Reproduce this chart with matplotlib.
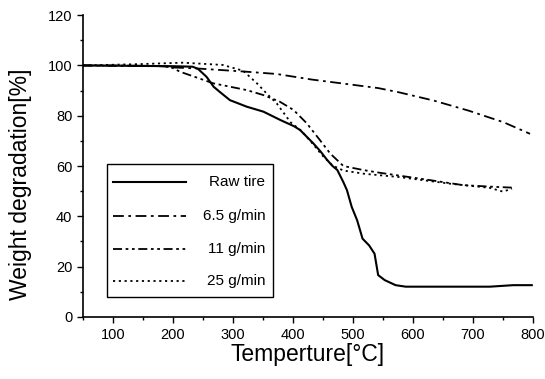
import numpy as np
import matplotlib
matplotlib.use("Agg")
import matplotlib.pyplot as plt
from matplotlib.ticker import MultipleLocator

plt.rcParams['font.family'] = ['Liberation Sans', 'DejaVu Sans']

# raw tire (solid)
raw_t = [50, 200, 233, 242, 256, 268, 278, 295, 323, 351, 379, 402, 412, 434, 446,
         457, 466, 474, 484, 490, 498, 507, 516, 527, 536, 542, 553, 571, 588, 664, 728, 767, 798]
raw_w = [100, 99.7, 99.5, 98.6, 95.5, 91.5, 89.5, 86.2, 83.6, 81.6, 78.3, 75.8, 74.3, 69, 65.8,
         62.4, 60, 58.4, 53.6, 50.4, 43.7, 38.4, 31.1, 28.4, 25.1, 16.6, 14.6, 12.6, 12, 12, 12, 12.6, 12.6]

# 6.5 g/min
r65_t = [50, 180, 199, 240, 323, 373, 431, 490, 542, 577, 635, 693, 751, 795]
r65_w = [100, 99.8, 99.2, 98.8, 97.5, 96.6, 94.4, 92.6, 91, 89.3, 86, 82, 77.4, 72.8]

# 11 g/min
r11_t = [50, 170, 195, 212, 267, 323, 351, 378, 401, 423, 445, 462, 484, 517, 545, 628, 683, 728, 765]
r11_w = [100, 99.8, 99.5, 97.5, 92.9, 90.2, 88.2, 85.6, 82.3, 77, 70.3, 65, 60, 58.4, 57.3, 54.4, 52.4, 51.8, 51.4]

# 25 g/min
r25_t = [50, 141, 217, 283, 317, 340, 356, 373, 396, 414, 431, 449, 466, 484, 519, 577, 664, 728, 750, 765]
r25_w = [100, 100.5, 101.1, 100.2, 97.9, 92.9, 88.9, 84.9, 77.4, 74, 69.4, 64.2, 60.2, 58.2, 56.9, 55.6, 52.9, 51.3, 49.8, 51]

labels = ['Raw tire', '6.5 g/min', '11 g/min', '25 g/min']
styles = ['-', (0, (6, 2.5, 1.5, 2.5)), (0, (5, 2, 1.5, 2, 1.5, 2)), (0, (1.2, 2))]
widths = [1.5, 1.3, 1.3, 1.3]

fig = plt.figure(figsize=(5.45, 3.79), dpi=100)
ax = fig.add_axes([0.152, 0.164, 0.826, 0.796])

series = [(raw_t, raw_w), (r65_t, r65_w), (r11_t, r11_w), (r25_t, r25_w)]
for (t, w), ls, lw in zip(series, styles, widths):
    ax.plot(t, w, color='black', linewidth=lw, linestyle=ls)

ax.set_xlim(50, 800)
ax.set_ylim(0, 120)
ax.xaxis.set_minor_locator(MultipleLocator(50))
ax.yaxis.set_major_locator(MultipleLocator(20))
ax.yaxis.set_minor_locator(MultipleLocator(10))
ax.set_xticks(range(100, 801, 100))
ax.tick_params(which='major', direction='out', length=4, width=1, labelsize=10.5)
ax.tick_params(axis='x', which='major', pad=4)
ax.tick_params(which='minor', direction='out', length=2.5, width=1)

ax.spines['top'].set_visible(False)
ax.spines['right'].set_visible(False)
ax.spines['left'].set_linewidth(1.2)
ax.spines['bottom'].set_linewidth(1.2)

ax.set_xlabel("Temperture[°C]", fontsize=16.5, labelpad=1)
ax.set_ylabel("Weight degradation[%]", fontsize=16.5)
ax.yaxis.set_label_coords(-0.112, 0.44)

# legend box drawn by hand so labels can be right-aligned like the original
tr = ax.transAxes
box = plt.Rectangle((0.054, 0.066), 0.369, 0.441, transform=tr, fill=True,
                    facecolor='white', edgecolor='black', linewidth=1.0, zorder=5)
ax.add_patch(box)
row_y = [0.447, 0.335, 0.225, 0.119]
for lab, ls, lw, y in zip(labels, styles, widths, row_y):
    ax.plot([0.067, 0.229], [y, y], transform=tr, color='black', linestyle=ls,
            linewidth=lw, zorder=6)
    ax.text(0.405, y, lab, transform=tr, ha='right', va='center', fontsize=11, zorder=6)

fig.savefig("out.png", dpi=100)
